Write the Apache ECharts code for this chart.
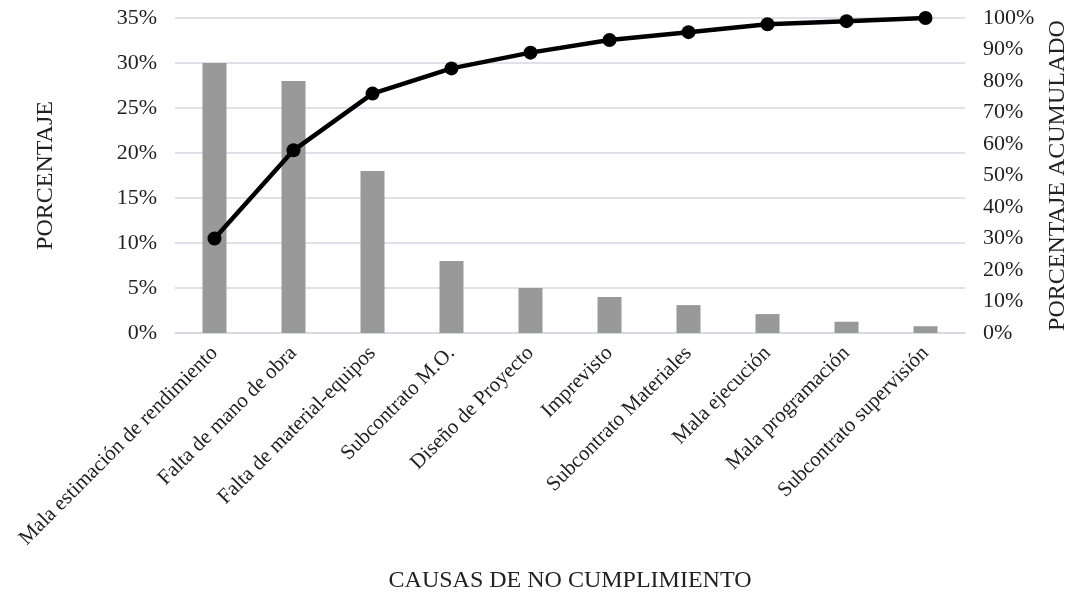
<!DOCTYPE html>
<html>
<head>
<meta charset="utf-8">
<script src="https://cdn.jsdelivr.net/npm/echarts@6/dist/echarts.min.js"></script>
<style>html,body{margin:0;padding:0;background:#fff;}#c{width:1072px;height:596px;}</style>
</head>
<body>
<div id="c"></div>
<script>
var categories = ["Mala estimación de rendimiento","Falta de mano de obra","Falta de material-equipos","Subcontrato M.O.","Diseño de Proyecto","Imprevisto","Subcontrato Materiales","Mala ejecución","Mala programación","Subcontrato supervisión"];
var porcentaje = [30, 28, 18, 8, 5, 4, 3.1, 2.1, 1.25, 0.75];
var acumulado = [30, 58, 76, 84, 89, 93, 95.5, 98, 99, 100];
var leftTicks = {min: 0, max: 35, interval: 5};
var rightTicks = {min: 0, max: 100, interval: 10};

var font = "Liberation Serif";
var chart = echarts.init(document.getElementById('c'));
chart.setOption({
  animation: false,
  backgroundColor: '#fff',
  grid: {left: 175, right: 107, top: 18, bottom: 263, containLabel: false, outerBoundsMode: 'none'},
  xAxis: {
    type: 'category',
    data: categories,
    name: 'CAUSAS DE NO CUMPLIMIENTO',
    nameLocation: 'middle',
    nameGap: 236,
    nameTextStyle: {fontFamily: font, fontSize: 24, color: '#222'},
    axisLine: {lineStyle: {color: '#d3d9e0', width: 1.5}},
    axisTick: {show: false},
    axisLabel: {rotate: 45, interval: 0, fontFamily: font, fontSize: 21, color: '#222', margin: 17}
  },
  yAxis: [{
    type: 'value',
    min: leftTicks.min, max: leftTicks.max, interval: leftTicks.interval,
    name: 'PORCENTAJE',
    nameLocation: 'middle',
    nameGap: 117,
    nameRotate: 90,
    nameTextStyle: {fontFamily: font, fontSize: 24, color: '#222'},
    axisLine: {show: false},
    axisTick: {show: false},
    axisLabel: {formatter: '{value}%', fontFamily: font, fontSize: 22, color: '#222', margin: 18},
    splitLine: {lineStyle: {color: '#d3d9e0', width: 1.5}}
  }, {
    type: 'value',
    min: rightTicks.min, max: rightTicks.max, interval: rightTicks.interval,
    name: 'PORCENTAJE ACUMULADO',
    nameLocation: 'middle',
    nameGap: 80,
    nameRotate: 90,
    nameTextStyle: {fontFamily: font, fontSize: 24, color: '#222'},
    axisLine: {show: false},
    axisTick: {show: false},
    axisLabel: {formatter: '{value}%', fontFamily: font, fontSize: 22, color: '#222', margin: 18, align: 'left'},
    splitLine: {show: false}
  }],
  series: [{
    type: 'bar',
    data: porcentaje,
    barWidth: 24,
    itemStyle: {color: '#999999'},
    yAxisIndex: 0
  }, {
    type: 'line',
    data: acumulado,
    yAxisIndex: 1,
    symbol: 'circle',
    symbolSize: 14,
    lineStyle: {color: '#000', width: 4.5},
    itemStyle: {color: '#000'}
  }]
});
</script>
</body>
</html>
